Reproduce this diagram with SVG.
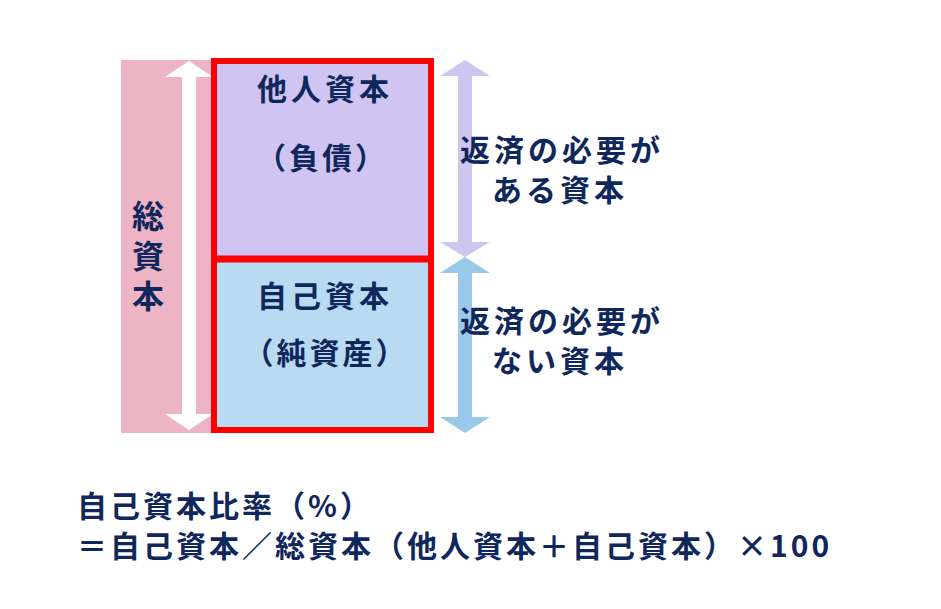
<svg xmlns="http://www.w3.org/2000/svg" width="941" height="609" viewBox="0 0 941 609">
<style>
.t{font-family:"Noto Sans CJK JP","Noto Sans CJK SC",sans-serif;font-weight:bold;fill:#10275C;font-size:30px}
.c{text-anchor:middle}
.s4{letter-spacing:4px}
.s3{letter-spacing:3px}
</style>
<rect width="941" height="609" fill="#ffffff"/>
<g id="total">
<rect x="121" y="60" width="92" height="373" fill="#EDB4C5"/>
<polygon points="189,61 213,77 196,77 196,414 213,414 189,430 165,414 182,414 182,77 165,77" fill="#ffffff"/>
<text class="t c" style="font-size:32px"><tspan x="148" y="228">総</tspan><tspan x="148" y="268">資</tspan><tspan x="148" y="308">本</tspan></text>
</g>
<g id="liabilities">
<rect x="214" y="61" width="217" height="198" fill="#D0C5F2"/>
<text class="t c s4" x="325" y="100">他人資本</text>
<text class="t c s3" x="322" y="169">（負債）</text>
</g>
<g id="equity">
<rect x="214" y="259" width="217" height="171" fill="#B8DBF2"/>
<text class="t c s4" x="325" y="307">自己資本</text>
<text class="t c s3" x="326" y="364">（純資産）</text>
</g>
<g id="frame">
<rect x="214" y="61" width="217" height="369" fill="none" stroke="#FF0000" stroke-width="6"/>
<line x1="214" y1="259" x2="431" y2="259" stroke="#FF0000" stroke-width="7"/>
</g>
<g id="connectors">
<polygon points="465,60 490,76 472,76 472,242 490,242 465,257 440,242 458,242 458,76 440,76" fill="#CFC5F1"/>
<polygon points="465,257 490,273 472,273 472,417 490,417 465,433 440,417 458,417 458,273 440,273" fill="#98C9EA"/>
</g>
<g id="label-repay">
<text class="t c s4" x="562" y="161">返済の必要が</text>
<text class="t c s4" x="560" y="201">ある資本</text>
</g>
<g id="label-norepay">
<text class="t c s4" x="562" y="332">返済の必要が</text>
<text class="t c s4" x="560" y="372">ない資本</text>
</g>
<g id="formula">
<text class="t s3" x="77" y="517">自己資本比率（%）</text>
<text class="t s3" x="77" y="557">＝自己資本／総資本（他人資本＋自己資本）×100</text>
</g>
</svg>
